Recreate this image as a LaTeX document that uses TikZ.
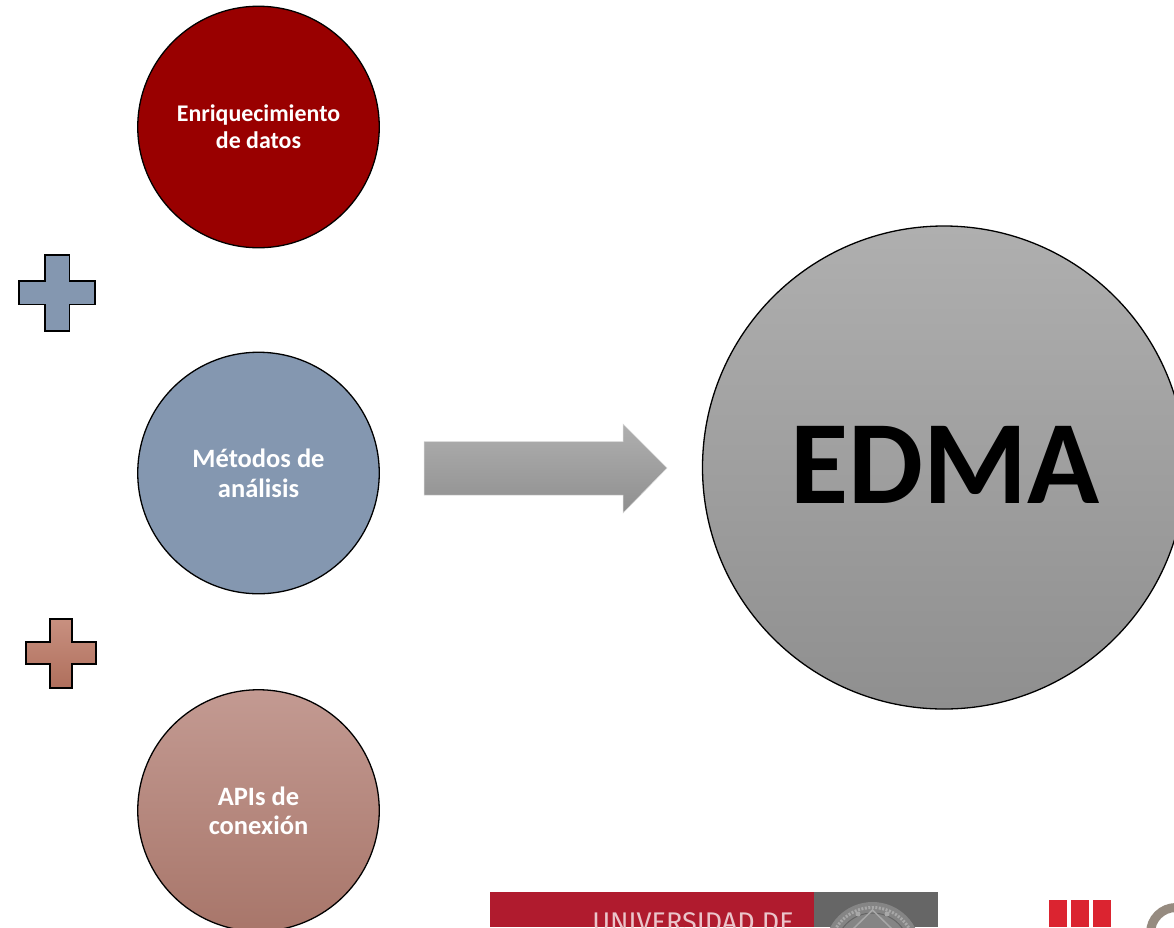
\documentclass[tikz,border=0pt]{standalone}
\usepackage{fontspec}
\setmainfont{Carlito}
\newfontfamily\logofont{Fira Sans}
\definecolor{darkred}{HTML}{990000}
\definecolor{slate}{HTML}{8497B0}
\definecolor{rosetop}{HTML}{C39A92}
\definecolor{rosemid}{HTML}{BA8A7E}
\definecolor{rosebot}{HTML}{A8766A}
\definecolor{greytop}{HTML}{AFAFAF}
\definecolor{greybot}{HTML}{8F8F8F}
\definecolor{plustop}{HTML}{C89080}
\definecolor{plusmid}{HTML}{C98472}
\definecolor{plusbot}{HTML}{AF6F5C}
\definecolor{logored}{HTML}{B01B2E}
\definecolor{logogray}{HTML}{666666}
\definecolor{sealgray}{HTML}{858585}
\definecolor{seallight}{HTML}{A8A8A8}
\definecolor{logotext}{HTML}{EBC5CB}
\definecolor{barred}{HTML}{DB2430}
\definecolor{cgray}{HTML}{968B80}
\tikzset{
  x=1pt,y=-1pt,
  disc/.style={circle,draw=black,line width=1.3pt,minimum size=241.5pt,inner sep=0pt,align=center,
    text=white,font=\fontsize{26.5}{29}\selectfont\bfseries},
  plusshape/.style={draw=black,line width=1.5pt,miter limit=10},
  greyshade/.style={top color=greytop,bottom color=greybot},
  roseshade/.style={top color=rosetop,middle color=rosemid,bottom color=rosebot}
}
\begin{document}
\begin{tikzpicture}
\useasboundingbox (0,0) rectangle (1174,927);
\clip (0,0) rectangle (1174,927);
% circles
\node[disc,fill=darkred,font=\fontsize{23.9}{27}\selectfont\bfseries] (enr) at (258.5,127) {Enriquecimiento\\de datos};
\node[disc,fill=slate,font=\fontsize{26.5}{30}\selectfont\bfseries] (met) at (258.5,473) {Métodos de\\análisis};
\node[disc,roseshade] (api) at (258.5,810.5) {APIs de\\conexión};
\node[disc,greyshade,minimum size=483pt] (edma) at (944,467.5) {};
\node[text=black,font=\fontsize{119}{119}\selectfont\bfseries,inner sep=0pt] (edmalabel) at (945.5,464.5) {EDMA};
% plus signs
\draw[plusshape,fill=slate] (45,255) -- (69.5,255) -- (69.5,281) -- (95,281) -- (95,304.5) -- (69.5,304.5) -- (69.5,331) -- (45,331) -- (45,304.5) -- (19,304.5) -- (19,281) -- (45,281) -- cycle;
\draw[plusshape,top color=plustop,middle color=plusmid,bottom color=plusbot] (50,619) -- (72,619) -- (72,642) -- (96,642) -- (96,664) -- (72,664) -- (72,688) -- (50,688) -- (50,664) -- (26,664) -- (26,642) -- (50,642) -- cycle;
% arrow
\path[greyshade,draw=white!85!black,line width=.5pt] (424,441.5) -- (623,441.5) -- (623,424) -- (667,468) -- (623,513) -- (623,495) -- (424,495) -- cycle;
% logo 1
\fill[logored] (490,892) rectangle (814,927);
\fill[logogray] (814,892) rectangle (938,927);
\fill[sealgray] (872.5,950) circle (48);
\draw[seallight,line width=3pt,dash pattern=on 2pt off 1.5pt] (872.5,950) circle (42.5);
\draw[logogray,line width=1pt] (872.5,950) circle (37);
\draw[seallight,line width=1.5pt] (853,929) -- (872.5,910) -- (892,929);
\fill[seallight] (858,914) circle (2.5);
\fill[seallight] (887,914) circle (2.5);
\node[text=logotext,font=\fontsize{27}{27}\selectfont\logofont,anchor=base east,inner sep=0pt] (ulogo) at (794,931) {UNIVERSIDAD DE};
% logo 2
\fill[barred] (1048.7,900) rectangle (1067.3,927);
\fill[barred] (1070.7,900) rectangle (1089.3,927);
\fill[barred] (1092.7,900) rectangle (1111.3,927);
\draw[cgray,line width=9pt] (1176,933) circle (25.5);
\end{tikzpicture}
\end{document}
